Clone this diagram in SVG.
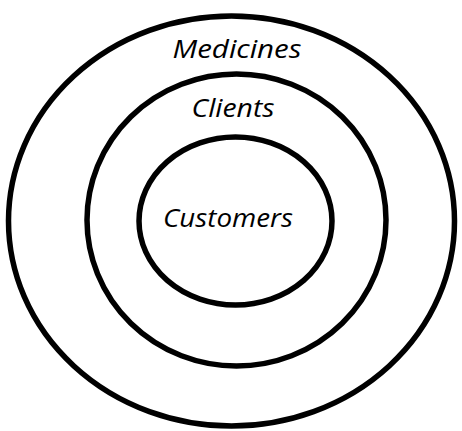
<svg xmlns="http://www.w3.org/2000/svg" width="462" height="431" viewBox="0 0 462 431">
<style>
.ring{fill:none;stroke:#000;stroke-width:5.5}
.lbl{font-family:"Open Sans","Noto Sans",sans-serif;font-style:italic;font-size:25px;fill:#000;text-anchor:middle}
</style>
<rect width="462" height="431" fill="#fff"/>
<g id="medicines">
<ellipse class="ring" cx="231.5" cy="221" rx="223" ry="205"/>
<text class="lbl" x="237" y="58" textLength="129" lengthAdjust="spacingAndGlyphs">Medicines</text>
</g>
<g id="clients">
<ellipse class="ring" cx="236.5" cy="220" rx="149.5" ry="146"/>
<text class="lbl" x="233" y="117" textLength="83" lengthAdjust="spacingAndGlyphs">Clients</text>
</g>
<g id="customers">
<ellipse class="ring" cx="235.5" cy="221" rx="96.5" ry="84"/>
<text class="lbl" x="228" y="227" textLength="130" lengthAdjust="spacingAndGlyphs">Customers</text>
</g>
<g id="connectors"/>
</svg>
